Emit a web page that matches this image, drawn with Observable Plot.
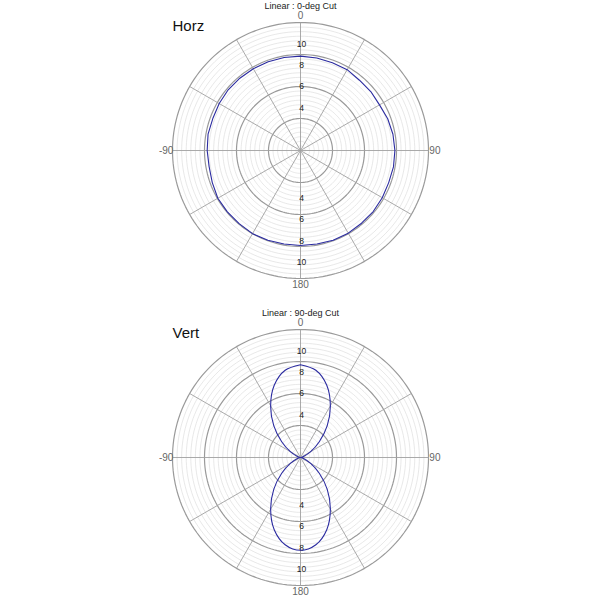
<!DOCTYPE html>
<html><head><meta charset="utf-8">
<script src="https://cdn.jsdelivr.net/npm/d3@7"></script>
<script src="https://cdn.jsdelivr.net/npm/@observablehq/plot@0.6"></script>
<style>
body{margin:0;background:#fff;font-family:"Liberation Sans",Arial,sans-serif}
#c svg{display:block}
</style>
</head><body><div id="c"></div>
<script>
// ---- data ----
const angles = [0,10,20,30,40,50,60,70,80,90,100,110,120,130,140,150,160,170,180,190,200,210,220,230,240,250,260,270,280,290,300,310,320,330,340,350,360];
const horzValues = [8.85,8.8,8.75,8.75,8.6,8.6,8.55,8.7,8.8,8.85,8.85,8.8,8.85,8.9,8.9,8.95,8.95,8.9,8.9,8.9,8.95,9.0,8.95,8.95,8.95,8.8,8.7,8.75,8.8,8.75,8.8,8.85,8.85,8.85,8.85,8.85,8.85];
const vertValues = [8.7,8.3,7.2,5.6,3.9,2.3,1.1,0.35,0.05,0,0.05,0.35,1.1,2.3,3.9,5.6,7.2,8.3,8.7,8.3,7.2,5.6,3.9,2.3,1.1,0.35,0.05,0,0.05,0.35,1.1,2.3,3.9,5.6,7.2,8.3,8.7];
const radialTickLabels = [4,6,8,10];
const majorRings = [3,6,9,12];
const spokeAngles = [0,30,60,90,120,150,180,210,240,270,300,330];
const angleLabelAngles = [0,90,180,270];
const angleLabelTexts = ["0","90","180","-90"];
const rMax = 12;
const minorStep = 3/7;

// ---- helpers ----
const rad = a => a * Math.PI / 180;
const K = 128 / rMax; // px per unit

function polar(values, title, label, H, cy, titleY, labelY, smooth) {
  const W = 600;
  const pts = angles.map((a, i) => ({a, r: values[i], x: values[i]*Math.sin(rad(a)), y: values[i]*Math.cos(rad(a))}));
  const ringPts = (levels) => levels.flatMap(lv => d3.range(0, 361, 2).map(a => ({lv, x: lv*Math.sin(rad(a)), y: lv*Math.cos(rad(a))})));
  const minor = d3.range(1, 28).map(i => i*minorStep).filter(v => !majorRings.some(m => Math.abs(m - v) < 1e-6));
  const spokes = spokeAngles.map(a => ({x1: 0, y1: 0, x2: rMax*Math.sin(rad(a)), y2: rMax*Math.cos(rad(a))}));
  const aLabels = angleLabelAngles.map((a, i) => ({t: angleLabelTexts[i], x: 12.6*Math.sin(rad(a)), y: 12.6*Math.cos(rad(a))}));
  const upLabels = radialTickLabels.map(v => ({t: String(v), x: 0, y: v}));
  const downLabels = radialTickLabels.map(v => ({t: String(v), x: 0, y: -v}));
  return Plot.plot({
    width: W, height: H,
    margin: 0,
    style: {fontFamily: '"Liberation Sans", Arial, sans-serif', background: "white"},
    x: {domain: [-W/2/K, W/2/K], axis: null},
    y: {domain: [-(H-cy)/K, cy/K], axis: null},
    marks: [
      Plot.line(ringPts(minor), {x: "x", y: "y", z: "lv", stroke: "#d8d8d8", strokeWidth: 0.6}),
      Plot.line(ringPts(majorRings), {x: "x", y: "y", z: "lv", stroke: "#9a9a9a", strokeWidth: 1.2}),
      Plot.link(spokes, {x1: "x1", y1: "y1", x2: "x2", y2: "y2", stroke: "#a0a0a0", strokeWidth: 0.9}),
      Plot.text(upLabels, {x: "x", y: "y", text: "t", fontSize: 8.5, fill: "#222", dx: 1}),
      Plot.text(downLabels, {x: "x", y: "y", text: "t", fontSize: 8.5, fill: "#222", dx: 1, dy: 5}),
      Plot.text(aLabels, {x: "x", y: "y", text: "t", fontSize: 10, fill: "#666"}),
      Plot.line(pts, {x: "x", y: "y", stroke: "#2b2ba0", strokeWidth: 1.1, curve: smooth ? "catmull-rom" : "linear"}),
      Plot.text([title], {frameAnchor: "top", dy: titleY, lineAnchor: "middle", fontSize: 9, fill: "#222"}),
      Plot.text([label], {frameAnchor: "top-left", dx: 172, dy: labelY, lineAnchor: "middle", textAnchor: "start", fontSize: 15, fill: "#111"})
    ]
  });
}

const c = document.getElementById("c");
c.append(polar(horzValues, "Linear : 0-deg Cut", "Horz", 300, 150, 6, 26, false));
c.append(polar(vertValues, "Linear : 90-deg Cut", "Vert", 300, 157, 13, 33, true));
</script>
</body></html>
